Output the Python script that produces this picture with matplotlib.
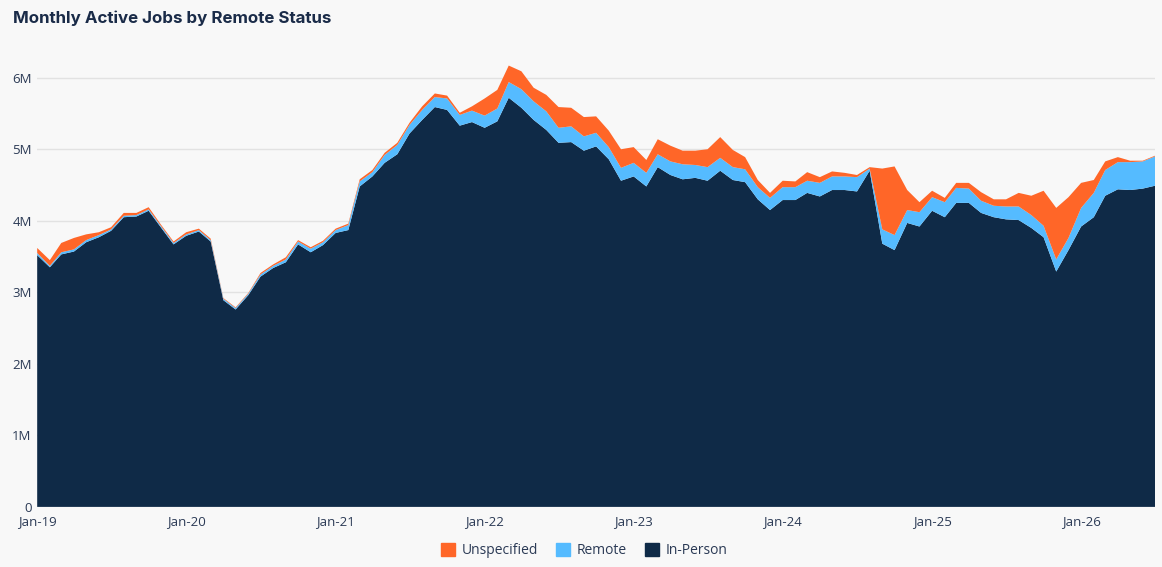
import matplotlib
matplotlib.use("Agg")
import matplotlib.pyplot as plt
import matplotlib.dates as mdates
from matplotlib.ticker import FuncFormatter
from matplotlib.patches import Patch
import numpy as np
import pandas as pd

plt.rcParams['font.family'] = ['Open Sans', 'DejaVu Sans']

# monthly values, millions of jobs, Jan 2019 .. Jul 2026
months = pd.date_range('2019-01-01', periods=91, freq='MS')

in_person = [3.52, 3.35, 3.53, 3.57, 3.70, 3.77, 3.86, 4.05, 4.06, 4.14,
             3.90, 3.67, 3.79, 3.85, 3.71, 2.89, 2.76, 2.96, 3.22, 3.34,
             3.42, 3.67, 3.56, 3.66, 3.83, 3.87, 4.48, 4.62, 4.81, 4.93,
             5.22, 5.41, 5.59, 5.55, 5.33, 5.38, 5.30, 5.39, 5.72, 5.58,
             5.41, 5.27, 5.09, 5.10, 4.98, 5.04, 4.86, 4.56, 4.62, 4.48,
             4.75, 4.64, 4.58, 4.60, 4.56, 4.70, 4.57, 4.54, 4.30, 4.15,
             4.29, 4.29, 4.39, 4.34, 4.43, 4.43, 4.41, 4.70, 3.68, 3.59,
             3.97, 3.92, 4.14, 4.05, 4.25, 4.25, 4.11, 4.05, 4.02, 4.01,
             3.90, 3.77, 3.29, 3.59, 3.92, 4.05, 4.35, 4.44, 4.43, 4.45,
             4.49]

remote = [0.03, 0.02, 0.03, 0.03, 0.03, 0.03, 0.02, 0.02, 0.02, 0.02,
          0.02, 0.02, 0.02, 0.02, 0.02, 0.02, 0.02, 0.02, 0.03, 0.03,
          0.04, 0.04, 0.05, 0.04, 0.04, 0.07, 0.07, 0.06, 0.11, 0.13,
          0.12, 0.14, 0.14, 0.16, 0.15, 0.16, 0.17, 0.18, 0.22, 0.26,
          0.26, 0.26, 0.21, 0.22, 0.20, 0.19, 0.17, 0.18, 0.19, 0.19,
          0.18, 0.19, 0.21, 0.18, 0.19, 0.18, 0.18, 0.18, 0.17, 0.17,
          0.18, 0.18, 0.17, 0.19, 0.19, 0.19, 0.20, 0.03, 0.20, 0.21,
          0.18, 0.20, 0.19, 0.21, 0.21, 0.20, 0.17, 0.16, 0.18, 0.19,
          0.18, 0.16, 0.17, 0.17, 0.26, 0.34, 0.36, 0.38, 0.39, 0.38,
          0.41]

unspecified = [0.07, 0.08, 0.13, 0.16, 0.08, 0.04, 0.03, 0.04, 0.03, 0.03,
               0.02, 0.02, 0.03, 0.02, 0.02, 0.01, 0.01, 0.01, 0.02, 0.02,
               0.03, 0.02, 0.02, 0.02, 0.02, 0.02, 0.03, 0.03, 0.03, 0.03,
               0.03, 0.05, 0.05, 0.04, 0.03, 0.06, 0.24, 0.26, 0.23, 0.25,
               0.19, 0.23, 0.29, 0.26, 0.27, 0.23, 0.23, 0.26, 0.22, 0.18,
               0.21, 0.22, 0.19, 0.20, 0.25, 0.29, 0.24, 0.17, 0.10, 0.07,
               0.09, 0.08, 0.12, 0.08, 0.07, 0.05, 0.03, 0.02, 0.85, 0.96,
               0.28, 0.14, 0.09, 0.06, 0.07, 0.08, 0.12, 0.09, 0.10, 0.19,
               0.27, 0.49, 0.72, 0.57, 0.35, 0.18, 0.12, 0.07, 0.02, 0.01,
               0.01]

series_names = ['In-Person', 'Remote', 'Unspecified']
colors = ['#0f2a47', '#55bbff', '#ff6628']
bg = '#f8f8f8'

fig = plt.figure(figsize=(11.62, 5.67), dpi=100, facecolor=bg)
ax = fig.add_axes([0.032, 0.106, 0.962, 0.82], facecolor=bg)

vals = np.array([in_person, remote, unspecified]) * 1e6
ax.stackplot(months, vals, colors=colors, labels=series_names,
             linewidth=0, zorder=2)

ax.set_xlim(months[0], months[-1])
ax.set_ylim(0, 6.5e6)
ax.set_yticks([0, 1e6, 2e6, 3e6, 4e6, 5e6, 6e6])
ax.yaxis.set_major_formatter(FuncFormatter(lambda v, p: '0' if v == 0 else '%dM' % (v / 1e6)))
ax.xaxis.set_major_locator(mdates.YearLocator())
ax.xaxis.set_major_formatter(mdates.DateFormatter('%b-%y'))

ax.grid(axis='y', color='#e2e2e2', linewidth=1, zorder=0)
for s in ax.spines.values():
    s.set_visible(False)
ax.tick_params(axis='both', length=0, labelsize=9.5, colors='#2b3a55')
ax.tick_params(axis='y', pad=4)
ax.tick_params(axis='x', pad=6)

fig.text(0.011, 0.968, 'Monthly Active Jobs by Remote Status', fontsize=12.2,
         fontweight='bold', color='#1a2b48', va='center', ha='left',
         family=['Inter', 'DejaVu Sans'])

handles = [Patch(color=colors[2]), Patch(color=colors[1]), Patch(color=colors[0])]
fig.legend(handles, ['Unspecified', 'Remote', 'In-Person'], loc='center',
           bbox_to_anchor=(0.503, 0.029), ncol=3, frameon=False, fontsize=10,
           handlelength=1.0, handleheight=1.0, handletextpad=0.5, columnspacing=1.3,
           labelcolor='#2b3a55')

fig.savefig('out.png', dpi=100, facecolor=bg)
